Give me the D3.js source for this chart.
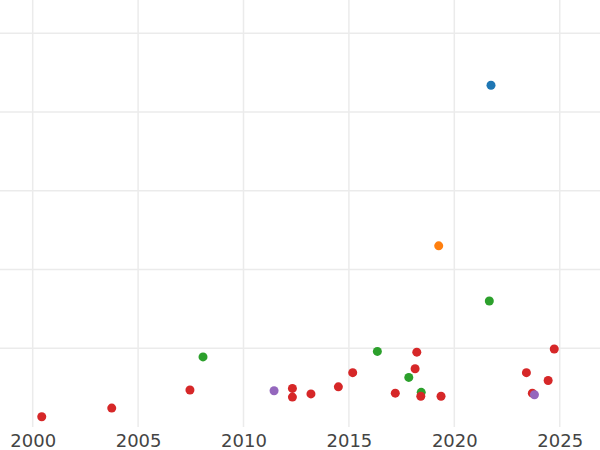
<!DOCTYPE html>
<html>
<head>
<meta charset="utf-8">
<script src="https://cdn.jsdelivr.net/npm/d3@7"></script>
<style>
  html, body { margin: 0; padding: 0; background: #fff; }
  svg { display: block; }
</style>
</head>
<body>
<svg id="chart" width="600" height="450"></svg>
<script>
// Data (years on x, unlabeled values on y)
const xTicks = [2000, 2005, 2010, 2015, 2020, 2025];
const yGrid = [1, 2, 3, 4, 5];

const blueYears = [2021.74];
const blueValues = [4.34];

const orangeYears = [2019.26];
const orangeValues = [2.30];

const greenYears = [2008.08, 2016.35, 2017.84, 2018.43, 2021.66];
const greenValues = [0.89, 0.96, 0.63, 0.44, 1.60];

const redYears = [2000.43, 2003.75, 2007.46, 2012.32, 2012.32, 2013.20, 2014.50, 2015.18,
                  2017.20, 2018.14, 2018.22, 2018.41, 2019.37, 2023.42, 2023.70, 2024.45, 2024.74];
const redValues = [0.13, 0.24, 0.47, 0.49, 0.38, 0.42, 0.51, 0.69,
                   0.43, 0.74, 0.95, 0.39, 0.39, 0.69, 0.43, 0.59, 0.99];

const purpleYears = [2011.45, 2023.80];
const purpleValues = [0.46, 0.41];

const series = [
  { color: "#1f77b4", xs: blueYears, ys: blueValues },
  { color: "#ff7f0e", xs: orangeYears, ys: orangeValues },
  { color: "#2ca02c", xs: greenYears, ys: greenValues },
  { color: "#d62728", xs: redYears, ys: redValues },
  { color: "#9467bd", xs: purpleYears, ys: purpleValues }
];

const width = 600, height = 450;
const plotBottom = 427;

const x = d3.scaleLinear().domain([1998.45, 2026.91]).range([0, width]);
const y = d3.scaleLinear().domain([0, 5.422]).range([plotBottom, 0]);

const svg = d3.select("#chart");

// grid
const grid = svg.append("g");
grid.selectAll("line.v").data(xTicks).enter().append("line")
  .attr("x1", d => x(d)).attr("x2", d => x(d))
  .attr("y1", 0).attr("y2", plotBottom)
  .attr("stroke", "#ebebeb").attr("stroke-width", 1.5);
grid.selectAll("line.h").data(yGrid).enter().append("line")
  .attr("x1", 0).attr("x2", width)
  .attr("y1", d => y(d)).attr("y2", d => y(d))
  .attr("stroke", "#ebebeb").attr("stroke-width", 1.5);

// x axis labels
const xAxis = d3.axisBottom(x).tickValues(xTicks).tickFormat(d3.format("d")).tickSize(0).tickPadding(7.5);
const ax = svg.append("g").attr("transform", `translate(0,${plotBottom})`).call(xAxis);
ax.select(".domain").remove();
ax.selectAll("text")
  .attr("font-family", "DejaVu Sans, sans-serif")
  .attr("font-size", 18)
  .attr("fill", "#444");

// points
series.forEach(s => {
  const pts = s.xs.map((v, i) => [v, s.ys[i]]);
  svg.append("g").selectAll("circle").data(pts).enter().append("circle")
    .attr("cx", d => x(d[0]))
    .attr("cy", d => y(d[1]))
    .attr("r", 4.5)
    .attr("fill", s.color);
});
</script>
</body>
</html>
